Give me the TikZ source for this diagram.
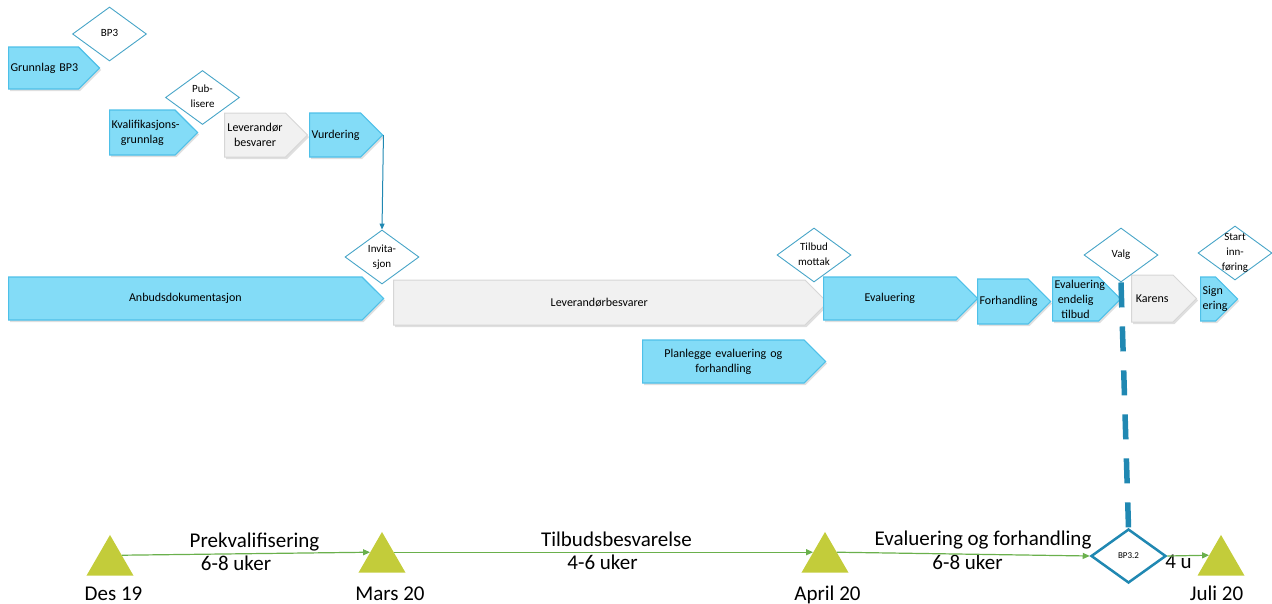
\documentclass[tikz,border=0pt]{standalone}
\usepackage{fontspec}
\setmainfont{Carlito}
\usetikzlibrary{shapes.symbols,shapes.geometric,arrows.meta,shadows,positioning}

\definecolor{phaseblue}{RGB}{131,220,247}
\definecolor{phaseblueline}{RGB}{78,192,232}
\definecolor{phasegray}{RGB}{241,241,241}
\definecolor{phasegrayline}{RGB}{214,214,214}
\definecolor{gateline}{RGB}{72,165,200}
\definecolor{bpline}{RGB}{32,136,178}
\definecolor{milegreen}{RGB}{195,204,58}
\definecolor{linegreen}{RGB}{106,176,76}

\newcommand{\boxfont}{\fontsize{12}{15}\selectfont\hyphenpenalty=10000\exhyphenpenalty=10000\relax}
\newcommand{\gatefont}{\fontsize{11}{15}\selectfont}
\newcommand{\timefont}{\fontsize{21}{25}\selectfont}
\newcommand{\gatetext}[1]{\raisebox{-2.5pt}[0pt][0pt]{\makebox[0pt]{\begin{tabular}{@{}c@{}}#1\end{tabular}}}}

\tikzset{
  phase/.style={signal, signal to=east, signal pointer angle=90, anchor=west,
    inner ysep=0pt, inner xsep=2pt, align=center, font=\boxfont,
    drop shadow={shadow xshift=1.5pt, shadow yshift=-2pt, opacity=0.25}},
  bluephase/.style={phase, fill=phaseblue, draw=phaseblueline, line width=1.2pt},
  grayphase/.style={phase, fill=phasegray, draw=phasegrayline, line width=1pt},
  gate/.style={diamond, draw=gateline, fill=white, line width=0.9pt, inner sep=0pt,
    minimum width=74pt, minimum height=54pt, font=\gatefont},
  bpgate/.style={gate, draw=bpline, line width=2.5pt, minimum width=75pt,
    font=\fontsize{9}{11}\selectfont},
  milestone/.style={regular polygon, regular polygon sides=3, fill=milegreen,
    inner sep=0pt, minimum size=54.3pt},
  flowarrow/.style={draw=bpline, line width=1pt, -{Triangle[length=6pt,width=5pt]}},
  valgline/.style={draw=bpline, line width=5.5pt, dash pattern=on 25pt off 19pt},
  timearrow/.style={draw=linegreen, line width=1.2pt, -{Triangle[length=7pt,width=6pt]}},
  timetext/.style={font=\timefont, anchor=base, inner sep=0pt}
}

\begin{document}
\begin{tikzpicture}[x=1pt,y=-1pt]
  \useasboundingbox (0,0) rectangle (1272,603);

  \node[bluephase, text width=66pt, minimum height=42pt] (grunnlag) at (8,68) {Grunnlag~BP3};
  \node[bluephase, text width=61.5pt, minimum height=45pt] (kvalif) at (109,132.5) {Kvalifikasjons-\\grunnlag};
  \node[grayphase, text width=57pt, minimum height=44pt] (levsvar) at (224,135) {Leverandør\\besvarer};
  \node[bluephase, text width=47pt, minimum height=44pt] (vurd) at (309,135) {Vurdering};

  \node[bluephase, text width=349.5pt, minimum height=43pt] (anbud) at (8,298.5) {Anbudsdokumentasjon};
  \node[grayphase, text width=407.5pt, minimum height=45pt] (levbesv) at (393,302.5) {Leverandørbesvarer};
  \node[bluephase, text width=128.5pt, minimum height=43pt] (eval) at (823,298.5) {Evaluering};
  \node[bluephase, text width=46.5pt, minimum height=45pt] (forh) at (977,301.5) {Forhandling};
  \node[bluephase, text width=42pt, minimum height=44pt] (evalend) at (1052,299) {Evaluering\\endelig\\tilbud};
  \node[grayphase, text width=37.5pt, minimum height=47pt] (karens) at (1131,298.5) {Karens};
  \node[bluephase, text width=11pt, minimum height=44pt] (sign) at (1200,299) {Sign\\ering};
  \node[bluephase, text width=157.5pt, minimum height=43pt] (planl) at (642,361.5) {Planlegge evaluering og\\forhandling};

  \node[gate] (bp3) at (109.5,34) {\gatetext{BP3}};
  \node[gate] (publ) at (202.5,97.5) {\gatetext{Pub-\\lisere}};
  \node[gate] (invit) at (382,257) {\gatetext{Invita-\\sjon}};
  \node[gate] (tilbud) at (814,255) {\gatetext{Tilbud\\mottak}};
  \node[gate] (valg) at (1121,255) {\gatetext{Valg}};
  \node[gate] (start) at (1235,253) {\gatetext{Start\\inn-\\føring}};

  \draw[flowarrow] (vurd.east) -- (invit.north);

  \node[bpgate] (bp32) at (1128.5,556) {\gatetext{BP3.2}};
  \draw[valgline] (valg.south) -- (bp32.north);

  \foreach \n/\x/\y in {1/110/562.1, 2/382/559.1, 3/825/559.1, 4/1221/562.1}
    \node[milestone] (t\n) at (\x,\y) {};
  \foreach \n/\x/\d in {1/113.5/Des 19, 2/390/Mars 20, 3/827.5/April 20, 4/1216.5/Juli 20}
    \node[timetext] (d\n) at (\x,600) {\d};

  \node[timetext] (prekv) at (254.5,547) {Prekvalifisering};
  \node[timetext] (prekvuker) at (236,570) {6-8 uker};
  \node[timetext] (tilbesv) at (616.5,546) {Tilbudsbesvarelse};
  \node[timetext] (tilbuker) at (602.5,569) {4-6 uker};
  \node[timetext] (evforh) at (983,545) {Evaluering og forhandling};
  \node[timetext] (evuker) at (967.5,569) {6-8 uker};
  \node[timetext] (fireu) at (1178.5,568) {4 u};

  \draw[timearrow] (t1.side 3) -- (t2.side 1);
  \draw[timearrow] (t2.side 3) -- (t3.side 1);
  \draw[timearrow] (t3.side 3) -- (bp32.west);
  \draw[timearrow] (bp32.east) -- (t4.side 1);
\end{tikzpicture}
\end{document}
